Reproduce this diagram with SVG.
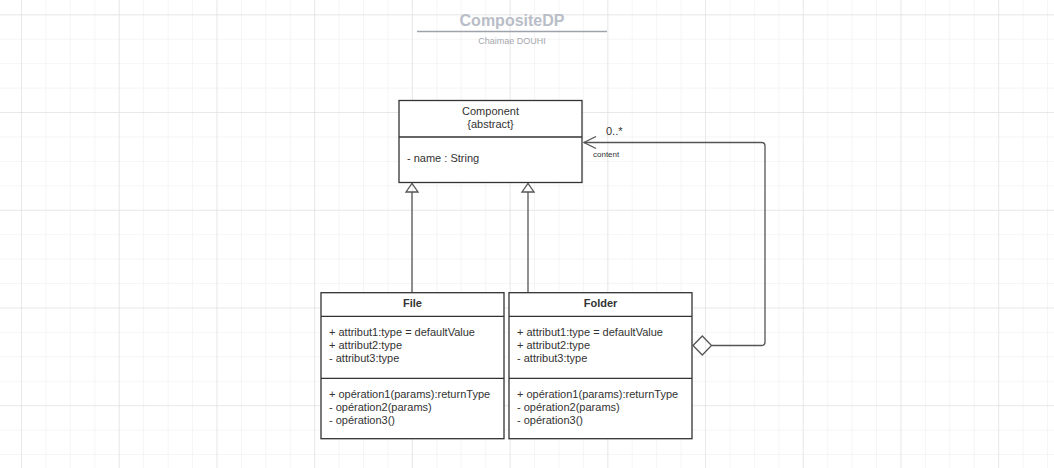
<svg xmlns="http://www.w3.org/2000/svg" width="1054" height="468" viewBox="0 0 1054 468">
<style>
text{font-family:"Liberation Sans",Arial,sans-serif;fill:#333;font-size:11px}
.box{fill:#fff;stroke:#333;stroke-width:1.3}
.div{stroke:#333;stroke-width:1.3}
.conn{fill:none;stroke:#555;stroke-width:1.3}
.c{text-anchor:middle}
.b{font-weight:bold}
</style>
<defs>
<pattern id="minor" patternUnits="userSpaceOnUse" x="21" y="14.3" width="24.43" height="24.43">
<path d="M0 0V24.43M0 0H24.43" fill="none" stroke="#ebebeb" stroke-width="1"/>
</pattern>
<pattern id="major" patternUnits="userSpaceOnUse" x="21" y="14.3" width="97.72" height="97.72">
<path d="M0 0V97.72M0 0H97.72" fill="none" stroke="#dcdcdc" stroke-width="1"/>
</pattern>
<marker id="tri" markerWidth="12" markerHeight="12" refX="0" refY="5" orient="auto" markerUnits="userSpaceOnUse" viewBox="0 0 10 10">
<path d="M0 5L10 0V10Z" fill="#fff" stroke="#555" stroke-width="1.2"/>
</marker>
</defs>
<rect width="1054" height="468" fill="#fff"/>
<rect width="1054" height="468" fill="url(#minor)"/>
<rect width="1054" height="468" fill="url(#major)"/>

<g id="title">
<text x="512" y="26" class="c b" style="font-size:16px;fill:#b9bdc7">CompositeDP</text>
<line x1="417" y1="31.5" x2="607" y2="31.5" stroke="#9ea2ad" stroke-width="1.3"/>
<text x="512" y="44" class="c" style="font-size:9px;fill:#a6a8ae">Chaimae DOUHI</text>
</g>

<g id="connectors">
<path class="conn" d="M412 192V293"/>
<path class="conn" d="M406 192L412 183.5L418 192Z" fill="#fff"/>
<path class="conn" d="M528 192V293"/>
<path class="conn" d="M522 192L528 183.5L534 192Z" fill="#fff"/>
<path class="conn" d="M711.5 345.5H761.5Q765 345.5 765 342V146Q765 142.5 761.5 142.5H584"/>
<path class="conn" d="M596 136.5L584 142.5L596 148.5"/>
<path class="conn" d="M693 345.5L702.3 336L711.5 345.5L702.3 355Z" fill="#fff"/>
<text x="606" y="135">0..*</text>
<text x="593" y="157" style="font-size:8px">content</text>
</g>

<g id="component">
<rect class="box" x="399" y="100.5" width="183" height="82"/>
<line class="div" x1="399" y1="137" x2="582" y2="137"/>
<text x="490.5" y="115" class="c">Component</text>
<text x="490.5" y="128" class="c">{abstract}</text>
<text x="407" y="162">- name : String</text>
</g>

<g id="file">
<rect class="box" x="321" y="292.7" width="183" height="146"/>
<line class="div" x1="321" y1="316.3" x2="504" y2="316.3"/>
<line class="div" x1="321" y1="378.3" x2="504" y2="378.3"/>
<text x="412.5" y="307" class="c b">File</text>
<text x="329" y="336">+ attribut1:type = defaultValue</text>
<text x="329" y="349">+ attribut2:type</text>
<text x="329" y="362">- attribut3:type</text>
<text x="329" y="398">+ opération1(params):returnType</text>
<text x="329" y="411">- opération2(params)</text>
<text x="329" y="424">- opération3()</text>
</g>

<g id="folder">
<rect class="box" x="509" y="292.7" width="183" height="146"/>
<line class="div" x1="509" y1="316.3" x2="692" y2="316.3"/>
<line class="div" x1="509" y1="378.3" x2="692" y2="378.3"/>
<text x="600.5" y="307" class="c b">Folder</text>
<text x="517" y="336">+ attribut1:type = defaultValue</text>
<text x="517" y="349">+ attribut2:type</text>
<text x="517" y="362">- attribut3:type</text>
<text x="517" y="398">+ opération1(params):returnType</text>
<text x="517" y="411">- opération2(params)</text>
<text x="517" y="424">- opération3()</text>
</g>
</svg>
